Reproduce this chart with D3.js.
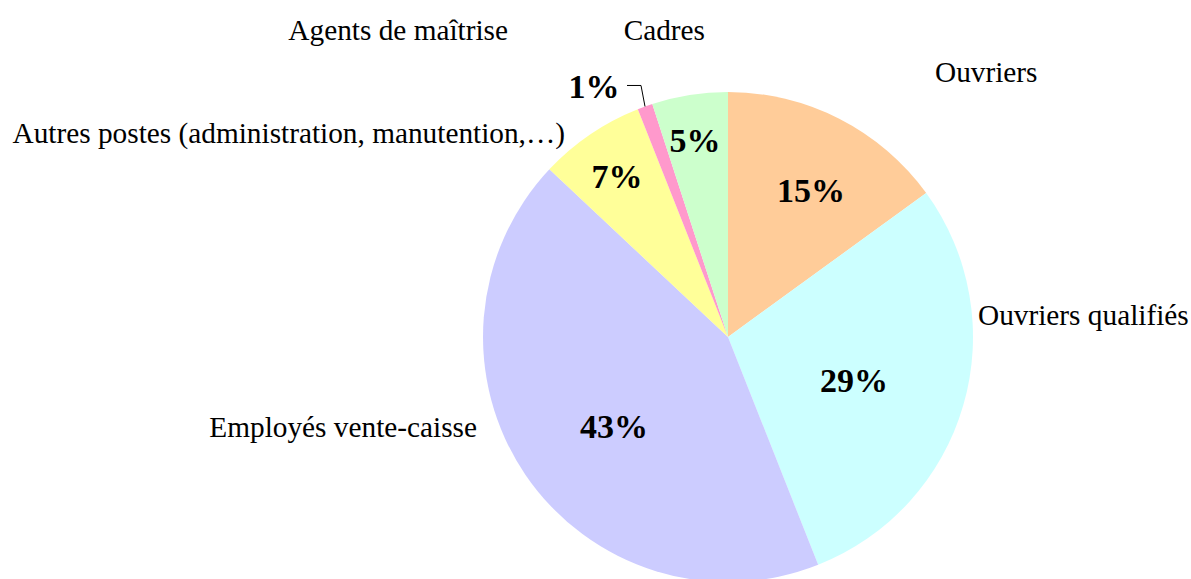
<!DOCTYPE html>
<html>
<head>
<meta charset="utf-8">
<script src="https://cdn.jsdelivr.net/npm/d3@7"></script>
<style>
  html, body { margin: 0; padding: 0; background: #fff; }
  svg { display: block; }
  svg text { font-family: "Liberation Serif", "Times New Roman", serif; fill: #000; }
</style>
</head>
<body>
<svg id="chart" width="1191" height="579"></svg>
<script>
// ---- data ----
const categories = ["Ouvriers", "Ouvriers qualifiés", "Employés vente-caisse",
  "Autres postes (administration, manutention,…)", "Agents de maîtrise", "Cadres"];
const values = [15, 29, 43, 7, 1, 5];
const colors = ["#FFCC99", "#CCFFFF", "#CCCCFF", "#FFFF99", "#FF99CC", "#CCFFCC"];

// ---- layout (label placement, relative to pie centre) ----
const W = 1191, H = 579;
const cx = 728, cy = 337, R = 245;
const pctLayout = [ // centre-x offset, baseline offset
  [83, -135], [126, 55], [-114, 101], [-111, -149], [-134, -239], [-33, -185]
];
const catLayout = [ // anchor x offset, baseline offset, anchor
  [207, -255, "start"], [250, -12, "start"], [-251, 100, "end"],
  [-163, -194, "end"], [-220, -297, "end"], [-23, -297, "end"]
];

const svg = d3.select("#chart");
const g = svg.append("g").attr("transform", `translate(${cx},${cy})`);

const total = d3.sum(values);
const pie = d3.pie().sort(null).value(d => d)(values);
const arc = d3.arc().innerRadius(0).outerRadius(R);

g.selectAll("path.slice").data(pie).join("path")
  .attr("class", "slice")
  .attr("d", arc)
  .attr("fill", (d, i) => colors[i]);

// leader line for the small slice
const small = pie[4];
const midA = (small.startAngle + small.endAngle) / 2;
const ex = Math.sin(midA) * R, ey = -Math.cos(midA) * R;
g.append("polyline")
  .attr("points", `${ex},${ey} ${ex - 4},${ey - 21} ${ex - 18},${ey - 21}`)
  .attr("fill", "none").attr("stroke", "#000").attr("stroke-width", 1);

g.selectAll("text.pct").data(pie).join("text")
  .attr("class", "pct")
  .attr("x", (d, i) => pctLayout[i][0])
  .attr("y", (d, i) => pctLayout[i][1])
  .attr("text-anchor", "middle")
  .style("font-size", "34px").style("font-weight", "bold")
  .text(d => Math.round(d.data / total * 100) + "%");

g.selectAll("text.cat").data(categories).join("text")
  .attr("class", "cat")
  .attr("x", (d, i) => catLayout[i][0])
  .attr("y", (d, i) => catLayout[i][1])
  .attr("text-anchor", (d, i) => catLayout[i][2])
  .style("font-size", "29.3px")
  .text(d => d);
</script>
</body>
</html>
